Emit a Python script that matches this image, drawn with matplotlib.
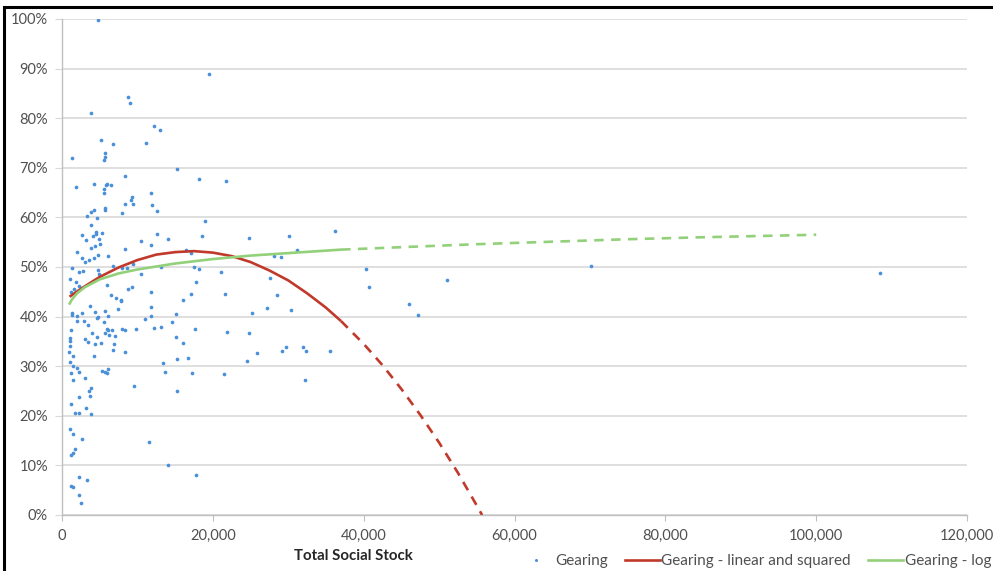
import matplotlib
matplotlib.use("Agg")
import matplotlib.pyplot as plt
from matplotlib.patches import Rectangle
from matplotlib.lines import Line2D
from matplotlib.ticker import FuncFormatter, PercentFormatter
import numpy as np

plt.rcParams['font.family'] = ['Lato', 'DejaVu Sans']

# scatter: total social stock (units) and gearing (%)
stock = [4800, 8700, 9000, 3800, 12200, 5200, 6700, 11100, 1300, 5700, 5700, 5600,
         8400, 1900, 4300, 5900, 6000, 6500, 5600, 5600, 11800, 9300, 9100, 8400,
         9400, 11900, 5700, 5700, 4200, 3800, 3300, 8000, 4600, 3800, 2700, 3200,
         4500, 4500, 5300, 4100, 4900, 5000, 4400, 3900, 10500, 11800, 8300, 2000,
         2600, 3000, 3600, 4300, 4800, 6100, 6800, 9400, 1300,
         2200, 2800, 4800, 4900, 7900, 8600, 10500, 1000, 1800, 2300, 1600, 1200,
         6000, 6500, 7100, 7800, 7800, 8700, 9300, 11800, 3700, 7400, 11800, 1300,
         1300, 2000, 2700, 4400, 5700, 6100, 4800, 4700, 2000, 2900, 3500, 5600,
         11000, 11800, 1200, 6000, 6100, 6600, 7900, 8300, 9800, 12200, 4000, 5700,
         6200, 1000, 1000, 1000, 3000, 4600, 7000, 3500, 4400, 5200, 6900, 6700,
         8300, 900, 1500, 4300, 1100, 1500, 2000, 2200, 1200, 5300, 5700, 6000,
         6100, 3000, 1400, 3800, 3600, 3700, 2200, 9600, 1200, 3200, 1700, 2200,
         3800, 1000, 1400, 2700, 11500, 1700, 1400, 1200, 2200, 3300, 1200, 1400,
         2300, 2500,
         19500, 13000, 15300, 18100, 21700, 12600, 19000, 12600, 14000, 18600, 24800,
         16400, 17100, 13100, 17500, 18200,
         21100, 17800, 17100, 21600, 16100, 15100, 13100, 14600, 17600, 21900, 24800,
         15100, 16100, 15200, 16700, 13400, 24500, 13600, 17300, 21500, 15300, 14000,
         17800,
         30100, 36200, 31100, 28100, 29000, 40300, 40700, 51000, 27600, 28500, 27200,
         30300, 25200, 46000, 47200, 25900, 29200, 29700, 32000, 32300, 35600, 32200,
         70200, 108400]
gearing = [99.7, 84.3, 83.1, 81.1, 78.5, 75.6, 74.8, 75.1, 72.0, 72.9, 72.2, 71.6,
           68.4, 66.2, 66.7, 66.6, 66.8, 66.6, 65.8, 65.0, 64.9, 64.1, 63.5, 62.8,
           62.7, 62.6, 61.8, 61.5, 61.4, 61.0, 60.2, 60.8, 59.8, 58.4, 56.5, 55.4,
           57.1, 56.6, 56.8, 56.2, 55.6, 54.6, 54.2, 53.8, 55.3, 54.4, 53.6, 53.0,
           51.9, 51.0, 51.4, 51.9, 52.4, 52.3, 50.3, 50.7, 49.8,
           48.9, 49.1, 49.4, 48.6, 49.7, 49.7, 48.5, 47.5, 47.0, 46.2, 45.6, 44.9,
           46.4, 44.4, 43.8, 43.4, 43.1, 45.6, 46.0, 45.0, 42.1, 41.5, 41.9, 40.7,
           40.3, 40.2, 40.8, 41.0, 41.1, 40.2, 39.9, 39.7, 39.1, 39.1, 38.4, 39.0,
           39.5, 40.2, 37.2, 37.5, 37.2, 37.3, 37.6, 37.3, 37.4, 37.8, 36.7, 36.6,
           36.3, 35.7, 35.1, 34.1, 35.5, 35.8, 36.0, 34.8, 34.5, 34.7, 34.4, 33.3,
           32.8, 32.8, 32.1, 32.1, 30.9, 30.0, 29.6, 28.9, 28.7, 29.0, 28.8, 28.6,
           29.4, 27.6, 27.3, 25.7, 25.0, 23.9, 23.7, 26.1, 22.4, 21.5, 20.6, 20.6,
           20.3, 17.3, 16.3, 15.3, 14.8, 13.4, 12.6, 12.0, 7.7, 7.1, 5.9, 5.7,
           4.0, 2.4,
           88.9, 77.6, 69.7, 67.8, 67.3, 61.2, 59.3, 56.6, 55.6, 56.3, 55.9,
           53.4, 52.8, 50.0, 50.1, 49.6,
           48.9, 47.0, 44.5, 44.6, 43.3, 40.6, 37.9, 38.9, 37.6, 36.8, 36.7,
           35.8, 34.7, 31.5, 31.7, 30.6, 31.1, 28.9, 28.6, 28.4, 24.9, 10.1,
           8.1,
           56.3, 57.3, 53.4, 52.2, 52.1, 49.6, 45.9, 47.4, 47.7, 44.3, 41.7,
           41.3, 40.7, 42.5, 40.3, 32.6, 33.1, 33.9, 33.9, 33.1, 33.1, 27.2,
           50.3, 48.7]

# trend line readings: linear and squared (solid part, then dashed forecast)
quad_x = [1000, 2500, 5000, 7500, 10000, 12500, 15000, 17500, 20000, 22500, 25000,
          27500, 30000, 32500, 35000, 37000]
quad_y = [44.0, 45.6, 48.0, 49.9, 51.4, 52.5, 53.0, 53.2, 52.9, 52.2, 51.0,
          49.3, 47.3, 44.7, 41.8, 39.1]
quad_fx = [37000, 40000, 42500, 45000, 47500, 50000, 52500, 55000, 55700]
quad_fy = [39.1, 34.5, 30.2, 25.4, 20.2, 14.6, 8.5, 1.9, 0.0]

# trend line readings: log
log_x = [930, 1300, 1500, 2000, 3000, 5000, 7500, 10000, 15000, 20000, 25000, 30000, 37000]
log_y = [42.4, 43.4, 43.8, 44.7, 45.9, 47.5, 48.7, 49.5, 50.7, 51.6, 52.3, 52.8, 53.5]
log_fx = [37000, 45000, 55000, 65000, 75000, 85000, 100000]
log_fy = [53.5, 54.0, 54.6, 55.1, 55.6, 56.0, 56.5]

blue = '#4A90D9'
red = '#C0392B'
green = '#93D07A'
txt = '#505050'

fig = plt.figure(figsize=(9.93, 5.71), dpi=100)
ax = fig.add_axes([62 / 993, 1 - 515 / 571, 905 / 993, 496 / 571])

ax.scatter(stock, gearing, s=7, color=blue, linewidths=0, zorder=3)
ax.plot(quad_x, quad_y, color=red, lw=1.9, solid_capstyle='butt', zorder=4)
ax.plot(quad_fx, quad_fy, color=red, lw=1.9, ls=(0, (3.6, 2.8)), zorder=4)
ax.plot(log_x, log_y, color=green, lw=1.9, solid_capstyle='butt', zorder=4)
ax.plot(log_fx, log_fy, color=green, lw=1.9, ls=(0, (3.6, 2.8)), zorder=4)

ax.set_xlim(0, 120000)
ax.set_ylim(0, 100)
ax.set_xticks(np.arange(0, 120001, 20000))
ax.set_yticks(np.arange(0, 101, 10))
ax.xaxis.set_major_formatter(FuncFormatter(lambda v, p: f"{v:,.0f}"))
ax.yaxis.set_major_formatter(PercentFormatter(decimals=0))
ax.grid(axis='y', color='#d9d9d9', lw=1.2, zorder=0)
ax.set_axisbelow(True)
for s in ['top', 'right']:
    ax.spines[s].set_visible(False)
for s in ['left', 'bottom']:
    ax.spines[s].set_color('#bfbfbf')
    ax.spines[s].set_linewidth(1)
ax.tick_params(axis='x', colors='#bfbfbf', labelcolor=txt, labelsize=10.5, length=4, pad=6)
ax.tick_params(axis='y', colors='#d9d9d9', labelcolor=txt, labelsize=10.5, length=5, pad=5)

fig.text(353 / 993, 1 - 556 / 571, 'Total Social Stock', ha='center', va='center',
         fontsize=10.8, fontweight='bold', color='#262626')

handles = [Line2D([], [], ls='none', marker='o', ms=2.2, color=blue, mew=0),
           Line2D([], [], color=red, lw=1.9),
           Line2D([], [], color=green, lw=1.9)]
labels = ['Gearing', 'Gearing - linear and squared', 'Gearing - log']
leg = fig.legend(handles, labels, loc='center right', bbox_to_anchor=(0.998, 1 - 561 / 571),
                 ncol=3, frameon=False, fontsize=11, handlelength=2.3,
                 handletextpad=0.1, columnspacing=1.1, borderaxespad=0, borderpad=0)
for t in leg.get_texts():
    t.set_color(txt)

# outer black frame (partly cut off at right/bottom)
fig.add_artist(Rectangle((4 / 993, -0.05), 1.2, 1 - 7 / 571 + 0.05, transform=fig.transFigure,
                         fill=False, ec='black', lw=2.2))

fig.savefig('out.png', dpi=100)
